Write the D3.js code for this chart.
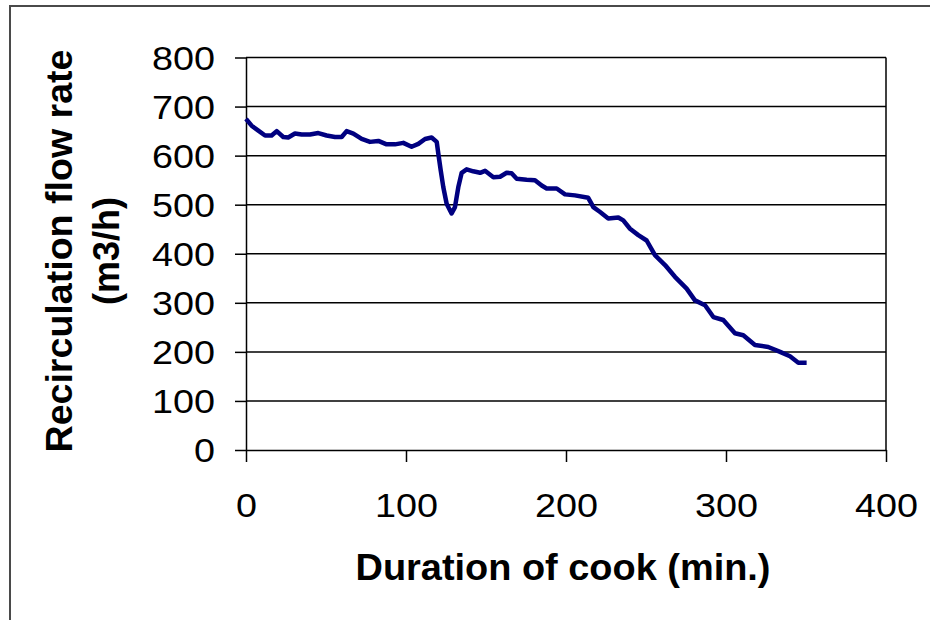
<!DOCTYPE html>
<html>
<head>
<meta charset="utf-8">
<script src="https://cdn.jsdelivr.net/npm/d3@7"></script>
<style>
  html, body { margin: 0; padding: 0; background: #fff; }
  svg { display: block; }
</style>
</head>
<body>
<svg id="chart" width="930" height="620"></svg>
<script>
// Cook time (min.) and recirculation flow rate (m3/h)
const cookTime = [0, 3.5, 7.7, 11.9, 16, 19.2, 23.3, 26.4, 30.6, 34.8, 40, 45.2, 50.4, 55.6, 59.8,
  62.9, 67.1, 72.3, 77.5, 82.7, 87.9, 93.1, 98.3, 103.5, 107.7, 111.9, 116, 119.2, 120.2, 121.7,
  123.3, 125.4, 128.5, 130.6, 132.7, 134.8, 137.9, 142, 146.3, 149.4, 154.6, 158.8, 162.9, 166,
  169.2, 175.4, 180.6, 184.8, 187.9, 194.2, 199.4, 205.6, 213.9, 217.1, 221.3, 226.4, 232.7, 235.8,
  240, 245.2, 250.4, 255.6, 261.9, 268.1, 275.4, 280.6, 286.9, 292.1, 298.3, 305.6, 310.8, 318.1,
  326.4, 333.8, 340, 345.2, 350.4];
const flowRate = [675, 661, 651, 641, 641, 650, 638, 637, 645, 643, 643, 646, 641, 638, 638,
  650, 645, 634, 628, 630, 623, 623, 626, 618, 624, 634, 637, 628, 604, 570,
  536, 502, 482, 495, 536, 565, 572, 568, 565, 569, 556, 557, 565, 564,
  553, 551, 550, 539, 533, 533, 521, 519, 514, 495, 485, 472, 474, 468,
  451, 438, 427, 397, 377, 353, 329, 305, 295, 271, 265, 238, 234, 214,
  210, 200, 191, 178, 178];

const xTicks = [0, 100, 200, 300, 400];
const yTicks = [0, 100, 200, 300, 400, 500, 600, 700, 800];
const xTitle = "Duration of cook (min.)";
const yTitleLines = ["Recirculation flow rate", "(m3/h)"];

const svg = d3.select("#chart");
const plot = { left: 246, right: 886, top: 57.5, bottom: 450 };

const x = d3.scaleLinear().domain([0, 400]).range([plot.left, plot.right]);
const y = d3.scaleLinear().domain([0, 800]).range([plot.bottom, plot.top]);

const font = "'Liberation Sans', Arial, sans-serif";

// Outer chart-area frame
svg.append("rect")
  .attr("x", 10).attr("y", 6)
  .attr("width", 940).attr("height", 640)
  .attr("fill", "#fff")
  .attr("stroke", "#4a4a4a")
  .attr("stroke-width", 2);

// Horizontal gridlines
svg.append("g")
  .selectAll("line")
  .data(yTicks.filter(d => d > 0))
  .join("line")
  .attr("x1", plot.left).attr("x2", plot.right)
  .attr("y1", d => y(d)).attr("y2", d => y(d))
  .attr("stroke", "#000").attr("stroke-width", 1.5);

// Right edge of plot area
svg.append("line")
  .attr("x1", plot.right).attr("x2", plot.right)
  .attr("y1", plot.top).attr("y2", plot.bottom)
  .attr("stroke", "#000").attr("stroke-width", 1.5);

// Y axis
const yAxis = svg.append("g")
  .attr("transform", `translate(${plot.left},0)`)
  .call(d3.axisLeft(y).tickValues(yTicks).tickSize(11).tickSizeOuter(0).tickPadding(20));
yAxis.select(".domain").attr("stroke", "#000").attr("stroke-width", 1.5);
yAxis.selectAll(".tick line").attr("stroke", "#000").attr("stroke-width", 1.5);
yAxis.selectAll(".tick text")
  .attr("font-family", font).attr("font-size", 33).attr("fill", "#000")
  .attr("dy", "0.36em")
  .attr("textLength", function () { return this.textContent.length * 21; })
  .attr("lengthAdjust", "spacingAndGlyphs");

// X axis
const xAxis = svg.append("g")
  .attr("transform", `translate(0,${plot.bottom})`)
  .call(d3.axisBottom(x).tickValues(xTicks).tickSize(12).tickSizeOuter(0).tickPadding(32));
xAxis.select(".domain").attr("stroke", "#000").attr("stroke-width", 1.5);
xAxis.selectAll(".tick line").attr("stroke", "#000").attr("stroke-width", 1.5);
xAxis.selectAll(".tick text")
  .attr("font-family", font).attr("font-size", 33).attr("fill", "#000")
  .attr("dy", "0.71em")
  .attr("textLength", function () { return this.textContent.length * 21; })
  .attr("lengthAdjust", "spacingAndGlyphs");

// Flow-rate line
const series = cookTime.map((t, i) => ({ t, v: flowRate[i] }));
svg.append("path")
  .datum(series)
  .attr("fill", "none")
  .attr("stroke", "#000080")
  .attr("stroke-width", 4.5)
  .attr("stroke-linejoin", "round")
  .attr("stroke-linecap", "butt")
  .attr("d", d3.line().x(d => x(d.t)).y(d => y(d.v)));

// Axis titles
svg.append("text")
  .attr("x", 563).attr("y", 580)
  .attr("text-anchor", "middle")
  .attr("font-family", font).attr("font-weight", "bold").attr("font-size", 36)
  .attr("textLength", 415).attr("lengthAdjust", "spacingAndGlyphs")
  .text(xTitle);

const yTitle = svg.append("g").attr("transform", "translate(0,251) rotate(-90)");
yTitle.append("text")
  .attr("x", 0).attr("y", 72)
  .attr("text-anchor", "middle")
  .attr("font-family", font).attr("font-weight", "bold").attr("font-size", 36)
  .attr("textLength", 403).attr("lengthAdjust", "spacingAndGlyphs")
  .text(yTitleLines[0]);
yTitle.append("text")
  .attr("x", 0).attr("y", 119)
  .attr("text-anchor", "middle")
  .attr("font-family", font).attr("font-weight", "bold").attr("font-size", 36)
  .text(yTitleLines[1]);
</script>
</body>
</html>
